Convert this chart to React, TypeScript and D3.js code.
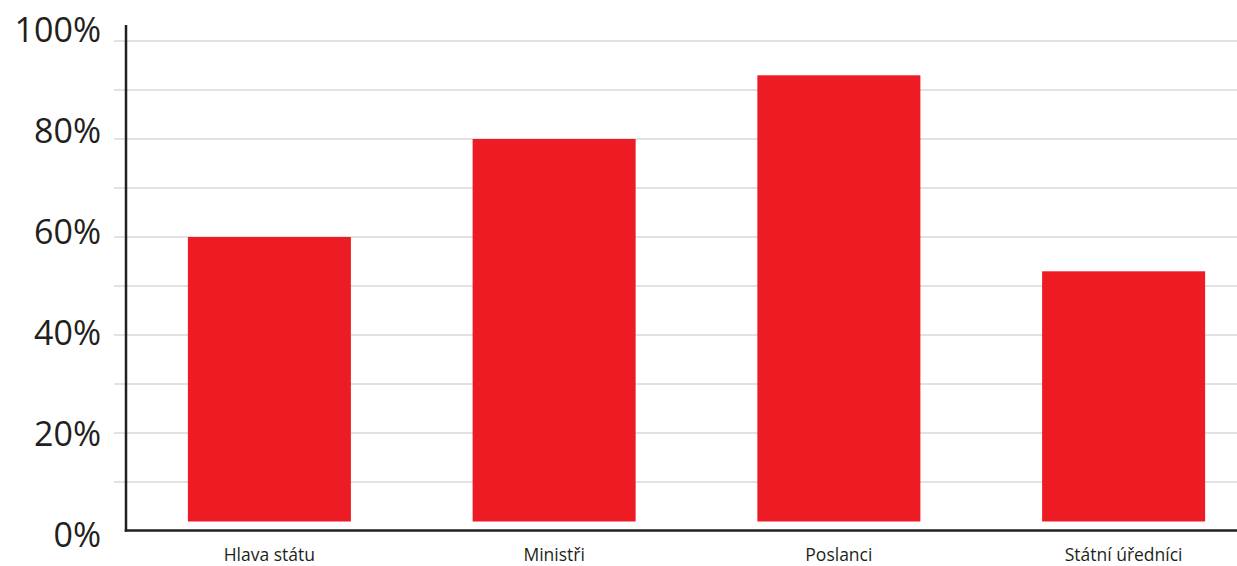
import React from "react";
import * as d3 from "d3";

// Share of respondents per office (percent)
const categories: string[] = ["Hlava státu", "Ministři", "Poslanci", "Státní úředníci"];
const values: number[] = [60, 80, 93, 53];
const majorTicks: number[] = [0, 20, 40, 60, 80, 100];
const gridTicks: number[] = [10, 20, 30, 40, 50, 60, 70, 80, 90, 100];

const W = 1237;
const H = 566;
const BAR_COLOR = "#ed1c24";
const INK = "#231f20";
const GRID = "#d9d9d9";
const FONT = "'Open Sans', 'Noto Sans', sans-serif";

export default function App() {
  const y = d3.scaleLinear().domain([0, 100]).range([531, 41]);
  // tick labels are spread a little wider than the gridlines
  const yLabel = d3.scaleLinear().domain([0, 100]).range([547, 42]);
  const x = d3
    .scaleBand<string>()
    .domain(categories)
    .range([127, 1266])
    .paddingInner(0.4275)
    .paddingOuter(0.2138);

  const axisX = 126;
  const baseY = y(0) - 0.5;
  const barGap = 9; // bars float slightly above the baseline

  return (
    <svg
      width={W}
      height={H}
      viewBox={`0 0 ${W} ${H}`}
      style={{ position: "absolute", left: 0, top: 0, display: "block", background: "#fff" }}
    >
      {/* gridlines */}
      {gridTicks.map((t) => (
        <line
          key={`g${t}`}
          x1={114}
          x2={W}
          y1={y(t)}
          y2={y(t)}
          stroke={GRID}
          strokeWidth={1.5}
        />
      ))}

      {/* bars */}
      {categories.map((c, i) => (
        <rect
          key={c}
          x={x(c)}
          y={y(values[i])}
          width={x.bandwidth()}
          height={baseY - barGap - y(values[i])}
          fill={BAR_COLOR}
        />
      ))}

      {/* axes */}
      <line x1={axisX} x2={axisX} y1={25} y2={baseY + 1.25} stroke={INK} strokeWidth={2.5} />
      <line x1={axisX - 1.25} x2={W} y1={baseY} y2={baseY} stroke={INK} strokeWidth={2.5} />

      {/* y tick labels */}
      {majorTicks.map((t) => (
        <text
          key={`t${t}`}
          x={101}
          y={yLabel(t)}
          textAnchor="end"
          fontFamily={FONT}
          fontSize={34}
          fill={INK}
        >
          {`${t}%`}
        </text>
      ))}

      {/* category labels */}
      {categories.map((c) => (
        <text
          key={`l${c}`}
          x={(x(c) ?? 0) + x.bandwidth() / 2}
          y={561}
          textAnchor="middle"
          fontFamily={FONT}
          fontSize={17.5}
          fill={INK}
        >
          {c}
        </text>
      ))}
    </svg>
  );
}
